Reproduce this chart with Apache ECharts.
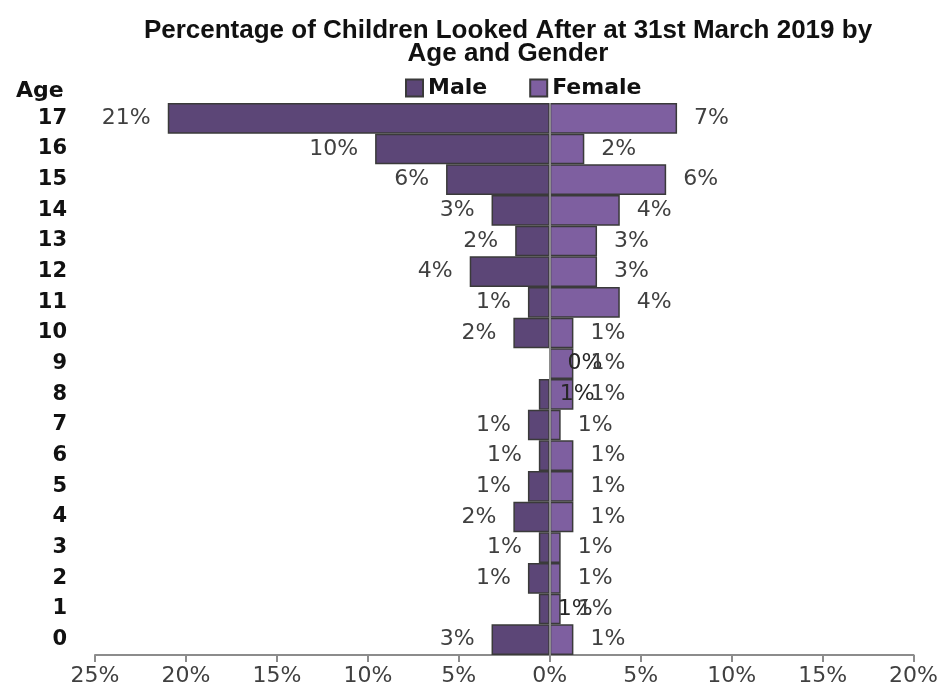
<!DOCTYPE html>
<html>
<head>
<meta charset="utf-8">
<script src="https://cdn.jsdelivr.net/npm/echarts@6/dist/echarts.min.js"></script>
<style>
  html, body { margin: 0; padding: 0; background: #fff; }
  #chart { width: 941px; height: 689px; }
</style>
</head>
<body>
<div id="chart"></div>
<script>
// ages from bottom (0) to top (17)
const ages = ['0', '1', '2', '3', '4', '5', '6', '7', '8', '9', '10', '11', '12', '13', '14', '15', '16', '17']
// percentages
const male = [3.2, 0.6, 1.2, 0.6, 2.0, 1.2, 0.6, 1.2, 0.6, 0, 2.0, 1.2, 4.4, 1.9, 3.2, 5.7, 9.6, 21.0]
const female = [1.3, 0.6, 0.6, 0.6, 1.3, 1.3, 1.3, 0.6, 1.3, 1.3, 1.3, 3.85, 2.6, 2.6, 3.85, 6.4, 1.9, 7.0]
const xTicks = [-25, -20, -15, -10, -5, 0, 5, 10, 15, 20]

// male labels that Excel pushed to the right side of the centre line
const maleLabelRight = { 9: 17, 8: 10, 1: 8 }

const pct = v => Math.round(Math.abs(v)) + '%'
const labelFont = { fontFamily: 'DejaVu Sans', fontSize: 22, color: '#404040' }

const maleData = male.map((v, i) => {
  const item = { value: -v }
  if (maleLabelRight[i] !== undefined) {
    item.label = { position: 'right', distance: maleLabelRight[i], color: '#262626' }
  }
  return item
})

const chart = echarts.init(document.getElementById('chart'))
chart.setOption({
  animation: false,
  title: [
    {
      text: 'Percentage of Children Looked After at 31st March 2019 by\nAge and Gender',
      left: 503,
      textAlign: 'center',
      top: 14,
      textStyle: {
        fontFamily: 'Liberation Sans',
        fontWeight: 'bold',
        fontSize: 26,
        lineHeight: 23,
        color: '#111'
      }
    },
    {
      text: 'Age',
      left: 11,
      top: 75,
      textStyle: { fontFamily: 'DejaVu Sans', fontWeight: 'bold', fontSize: 22, color: '#111' }
    }
  ],
  legend: {
    data: ['Male', 'Female'],
    icon: 'rect',
    left: 400,
    top: 72,
    itemWidth: 17,
    itemHeight: 17,
    itemGap: 42,
    textStyle: { fontFamily: 'DejaVu Sans', fontWeight: 'bold', fontSize: 22, color: '#111' }
  },
  grid: { left: 95, right: 27, top: 103, bottom: 34 },
  xAxis: {
    type: 'value',
    min: xTicks[0],
    max: xTicks[xTicks.length - 1],
    interval: 5,
    splitLine: { show: false },
    axisLine: { show: true, lineStyle: { color: '#8c8c8c', width: 2 } },
    axisTick: { show: true, length: 7, lineStyle: { color: '#8c8c8c', width: 2 } },
    axisLabel: { ...labelFont, margin: 10, formatter: v => Math.abs(v) + '%' }
  },
  yAxis: {
    type: 'category',
    data: ages,
    axisLine: { show: false, onZero: false },
    axisTick: { show: false },
    axisLabel: { fontFamily: 'DejaVu Sans', fontWeight: 'bold', fontSize: 21, color: '#111', margin: 28 }
  },
  series: [
    {
      name: 'Male',
      type: 'bar',
      data: maleData,
      barGap: '-100%',
      barCategoryGap: '0%',
      itemStyle: { color: '#5c4677', borderColor: '#3a3a3a', borderWidth: 1.5 },
      label: { show: true, position: 'left', distance: 17, ...labelFont, formatter: p => pct(p.value) },
      markLine: {
        silent: true,
        symbol: 'none',
        label: { show: false },
        lineStyle: { color: '#8c8c8c', width: 2, type: 'solid' },
        data: [{ xAxis: 0 }]
      }
    },
    {
      name: 'Female',
      type: 'bar',
      data: female,
      barGap: '-100%',
      barCategoryGap: '0%',
      itemStyle: { color: '#7e5fa0', borderColor: '#3a3a3a', borderWidth: 1.5 },
      label: { show: true, position: 'right', distance: 17, ...labelFont, formatter: p => pct(p.value) }
    }
  ]
})
</script>
</body>
</html>
